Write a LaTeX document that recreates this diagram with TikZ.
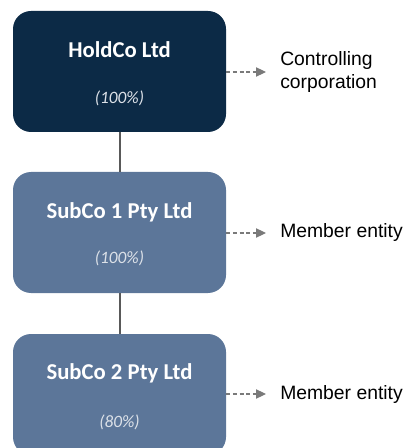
\documentclass[tikz,border=0pt]{standalone}
\usepackage{fontspec}
\setmainfont{Liberation Sans}
\newfontfamily\boxfont{Carlito}
\usepackage{tikz}
\usetikzlibrary{arrows.meta}
\definecolor{holdblue}{HTML}{0C2A46}
\definecolor{subblue}{HTML}{5C7699}
\definecolor{linkgrey}{HTML}{7A7A7A}
\definecolor{stemgrey}{HTML}{595959}
\definecolor{pctgrey}{HTML}{DCE1E8}
\tikzstyle{entity} = [rounded corners=13.5pt,minimum width=159.75pt,minimum height=90.75pt,inner sep=0pt]
\tikzstyle{title} = [text=white,font=\boxfont\bfseries\fontsize{17}{20}\selectfont]
\tikzstyle{pct} = [text=pctgrey,font=\boxfont\itshape\fontsize{13}{15}\selectfont]
\tikzstyle{role} = [anchor=west,align=left,inner xsep=10.5pt,inner ysep=0pt,font=\fontsize{14.5}{17.25}\selectfont]
\tikzstyle{link} = [linkgrey,line width=0.8pt,dash pattern=on 3pt off 2pt,-{Triangle[length=7.5pt,width=7pt]}]
\tikzstyle{stem} = [stemgrey,line width=1.5pt]

\begin{document}
\begin{tikzpicture}[x=0.75pt,y=-0.75pt]
                \useasboundingbox (0,0) rectangle (406,448);
                % boxes
                \node[entity,fill=holdblue] (hold) at (119.5,71.5) {};
                \node[entity,fill=subblue] (sub1) at (119.5,232.5) {};
                \node[entity,fill=subblue] (sub2) at (119.5,394.5) {};
                \draw[stem] (hold.south) -- (sub1.north);
                \draw[stem] (sub1.south) -- (sub2.north);
                % texts in the boxes
                \node[title] (holdname) at (119.5,50) {HoldCo Ltd};
                \node[pct] (holdpct) at (119.5,98) {(100\%)};
                \node[title] (sub1name) at (119.5,212) {SubCo 1 Pty Ltd};
                \node[pct] (sub1pct) at (119.5,258) {(100\%)};
                \node[title] (sub2name) at (119.5,373) {SubCo 2 Pty Ltd};
                \node[pct] (sub2pct) at (119.5,422) {(80\%)};
                % roles
                \node[role] (ctrl) at (266,72) {Controlling\\corporation};
                \node[role] (mem1) at (266,233) {Member entity};
                \node[role] (mem2) at (266,394) {Member entity};
                \draw[link] (hold.east |- ctrl.west) -- (ctrl.west);
                \draw[link] (sub1.east |- mem1.west) -- (mem1.west);
                \draw[link] (sub2.east |- mem2.west) -- (mem2.west);
            \end{tikzpicture}
\end{document}
